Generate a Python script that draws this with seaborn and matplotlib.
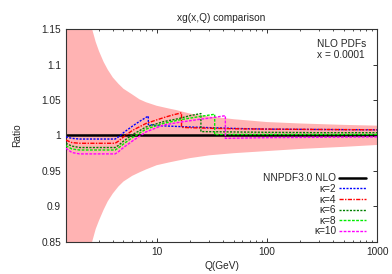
import numpy as np
import pandas as pd
import matplotlib
matplotlib.use('Agg')
import matplotlib.pyplot as plt
import seaborn as sns
from matplotlib.ticker import NullFormatter

# --- data ---
band_q = [1.5, 2.0, 2.3, 2.6, 2.8, 3.0, 3.3, 3.6, 4.0, 4.5, 5.0, 6.0, 7.0, 8.0, 10, 13, 15, 20, 30, 50, 100, 200, 500, 1000]
band_hi = [1.60, 1.26, 1.19, 1.150, 1.132, 1.119, 1.104, 1.093, 1.082, 1.073, 1.066, 1.058, 1.051, 1.047, 1.042, 1.038, 1.036, 1.031, 1.027, 1.023, 1.019, 1.017, 1.015, 1.0139]
band_lo = [0.40, 0.74, 0.81, 0.850, 0.868, 0.880, 0.895, 0.907, 0.918, 0.928, 0.935, 0.943, 0.948, 0.952, 0.958, 0.962, 0.964, 0.968, 0.972, 0.975, 0.978, 0.981, 0.984, 0.9866]

nnpdf_q = [1.5, 1000]
nnpdf_ratio = [1.0, 1.0]

k2_q = [1.5, 1.7, 2.0, 3.0, 4.2, 4.5, 5.0, 6.0, 7.0, 8.4, 8.4, 10, 20, 50, 100, 300, 1000]
k2_r = [0.998, 0.996, 0.995, 0.995, 0.995, 0.998, 1.004, 1.013, 1.020, 1.0275, 1.0155, 1.014, 1.012, 1.010, 1.009, 1.0085, 1.008]

k4_q = [1.5, 1.7, 2.0, 3.0, 4.2, 4.5, 5.0, 6.0, 8.0, 10, 12, 14, 16.8, 16.8, 20, 50, 100, 300, 1000]
k4_r = [0.9935, 0.990, 0.989, 0.989, 0.989, 0.992, 0.998, 1.007, 1.017, 1.022, 1.026, 1.029, 1.032, 1.0115, 1.011, 1.0095, 1.009, 1.0085, 1.008]

k6_q = [1.5, 1.7, 2.0, 3.0, 4.2, 4.5, 5.0, 6.0, 8.0, 11.5, 16, 20, 25.2, 25.2, 50, 100, 300, 1000]
k6_r = [0.989, 0.985, 0.983, 0.983, 0.983, 0.986, 0.992, 1.001, 1.012, 1.0195, 1.024, 1.028, 1.031, 1.0055, 1.005, 1.0045, 1.004, 1.004]

k8_q = [1.5, 1.7, 2.0, 3.0, 4.2, 4.5, 5.0, 6.0, 8.0, 11.5, 16, 25, 33.6, 33.6, 100, 1000]
k8_r = [0.9855, 0.981, 0.9795, 0.9795, 0.9795, 0.9825, 0.988, 0.997, 1.009, 1.017, 1.022, 1.027, 1.030, 1.0015, 1.0015, 1.0015]

k10_q = [1.5, 1.7, 2.0, 3.0, 4.2, 4.5, 5.0, 6.0, 8.0, 11.5, 16, 25, 33, 42, 42, 100, 1000]
k10_r = [0.982, 0.976, 0.974, 0.974, 0.974, 0.977, 0.983, 0.992, 1.005, 1.0148, 1.0186, 1.023, 1.0255, 1.028, 0.996, 0.997, 0.998]

curves = [
    ('κ=2', k2_q, k2_r, '#0000ff', (0, (1.5, 1))),
    ('κ=4', k4_q, k4_r, '#ff0000', (0, (3, 1, 1, 1))),
    ('κ=6', k6_q, k6_r, '#008000', (0, (1.5, 1))),
    ('κ=8', k8_q, k8_r, '#00ee00', (0, (2, 1))),
    ('κ=10', k10_q, k10_r, '#ff00ff', (0, (2, 1))),
]

sns.set_style('ticks')
plt.rcParams['font.family'] = ['Liberation Sans', 'DejaVu Sans']
plt.rcParams['font.size'] = 7.3

fig, ax = plt.subplots(figsize=(3.92, 2.74), dpi=100)
fig.subplots_adjust(left=0.168, right=0.962, top=0.893, bottom=0.118)

ax.fill_between(band_q, band_lo, band_hi, color='#ffb3b3', lw=0, zorder=1)

sns.lineplot(x=nnpdf_q, y=nnpdf_ratio, ax=ax, color='black', lw=1.8,
             estimator=None, sort=False, label='NNPDF3.0 NLO', zorder=2)

for name, q, r, c, ls in curves:
    sns.lineplot(x=q, y=r, ax=ax, color=c, lw=1.0, linestyle=ls,
                 estimator=None, sort=False, label=name, zorder=3)

ax.set_xscale('log')
ax.set_xlim(1.5, 1000)
ax.set_ylim(0.85, 1.15)
ax.set_xticks([10, 100, 1000])
ax.set_xticklabels(['10', '100', '1000'])
ax.xaxis.set_minor_formatter(NullFormatter())
ax.set_yticks([0.85, 0.9, 0.95, 1.0, 1.05, 1.1, 1.15])
ax.set_yticklabels(['0.85', '0.9', '0.95', '1', '1.05', '1.1', '1.15'])

ax.tick_params(which='both', direction='in', top=True, right=True, color='#333333')
ax.tick_params(which='major', length=3, width=0.7, pad=3.5)
ax.tick_params(which='minor', length=1.6, width=0.6)
for sp in ax.spines.values():
    sp.set_color('#333333')
    sp.set_linewidth(0.8)

ax.set_title('xg(x,Q) comparison', fontsize=7.3, pad=6)
ax.set_xlabel('Q(GeV)', labelpad=3)
ax.set_ylabel('Ratio', labelpad=14)

ax.text(0.806, 0.955, 'NLO PDFs\nx = 0.0001', transform=ax.transAxes,
        ha='left', va='top', linespacing=1.1)

ax.legend(loc='lower right', bbox_to_anchor=(0.965, 0.025), frameon=False,
          markerfirst=False, handlelength=2.7, handletextpad=0.25,
          labelspacing=0.06, borderpad=0, borderaxespad=0, fontsize=7.3)

plt.savefig('out.png', dpi=100)
